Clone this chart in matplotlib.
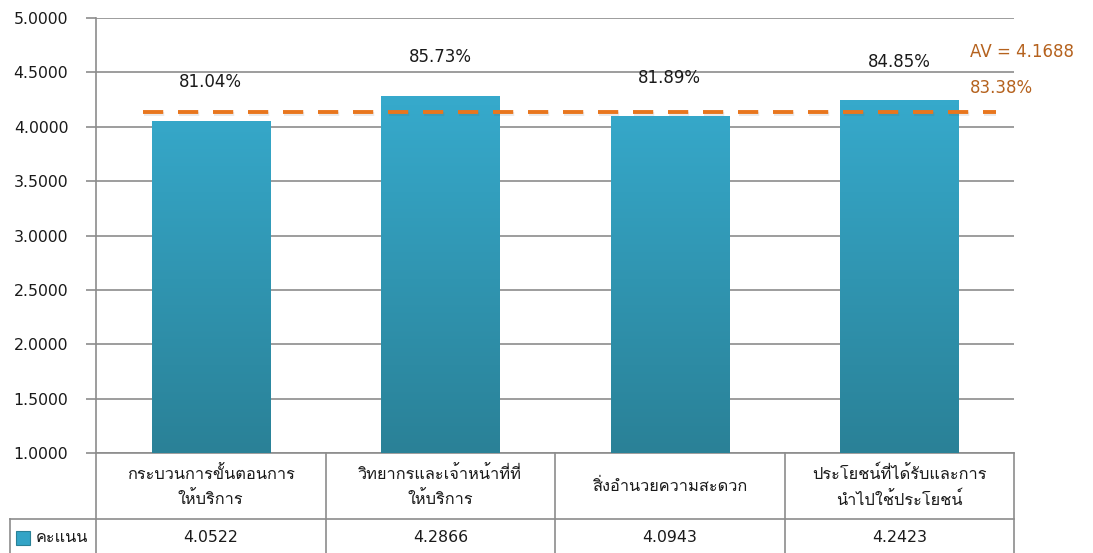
import numpy as np
import matplotlib
matplotlib.use("Agg")
import matplotlib.pyplot as plt
import matplotlib.patheffects as pe
from matplotlib.colors import LinearSegmentedColormap

# data
categories = ["กระบวนการขั้นตอนการ\nให้บริการ",
              "วิทยากรและเจ้าหน้าที่ที่\nให้บริการ",
              "สิ่งอำนวยความสะดวก",
              "ประโยชน์ที่ได้รับและการ\nนำไปใช้ประโยชน์"]
scores = [4.0522, 4.2866, 4.0943, 4.2423]
percents = ["81.04%", "85.73%", "81.89%", "84.85%"]
series_name = "คะแนน"
av_value = 4.1688
av_percent = "83.38%"
av_line_level = 4.135   # where the dashed line sits in the picture
yticks = [1.0, 1.5, 2.0, 2.5, 3.0, 3.5, 4.0, 4.5, 5.0]

plt.rcParams['font.family'] = ['DejaVu Sans', 'Loma']
plt.rcParams['font.size'] = 11

grid_c = '#8c8c8c'
text_c = '#1a1a1a'
av_c = '#b5621e'

fig = plt.figure(figsize=(10.93, 5.53), dpi=100)
ax = fig.add_axes([96 / 1093, 1 - 453 / 553, (1014 - 96) / 1093, (453 - 18) / 553])

x = np.arange(len(categories))
ax.set_xlim(-0.5, len(categories) - 0.5)
ax.set_ylim(1.0, 5.0)

# bars with vertical gradient
cmap = LinearSegmentedColormap.from_list("barg", ["#2a8197", "#39b3d8"])
grad = np.linspace(0, 1, 256).reshape(-1, 1)
bars = ax.bar(x, np.array(scores) - 1.0, bottom=1.0, width=0.515, color='none', zorder=3)
for b in bars:
    x0 = b.get_x()
    im = ax.imshow(grad, extent=[x0, x0 + b.get_width(), 1.0, 5.0],
                   origin='lower', aspect='auto', cmap=cmap, zorder=3,
                   vmin=0, vmax=1)
    im.set_clip_path(b)

for xi, s, p in zip(x, scores, percents):
    ax.annotate(p, (xi, s), xytext=(0, 28), textcoords='offset points',
                ha='center', va='center', fontsize=12, color=text_c, zorder=5)

ax.hlines(av_line_level, -0.295, 3.42, colors='#e8761e', linewidth=2.8,
          linestyles=(0, (5.2, 3.8)), zorder=4,
          path_effects=[pe.SimpleLineShadow(offset=(0.5, -1.5), alpha=0.12,
                                            shadow_color='#555555'),
                        pe.Normal()])
ax.text(3.308, 4.687, "AV = %.4f" % av_value, color=av_c, fontsize=12,
        ha='left', va='center')
ax.text(3.308, 4.356, av_percent, color=av_c, fontsize=12,
        ha='left', va='center')

ax.set_yticks(yticks)
ax.set_yticklabels(["%.4f" % v for v in yticks], color=text_c, fontsize=11.3)
ax.yaxis.grid(True, color=grid_c, linewidth=1.2, zorder=0)
ax.set_axisbelow(True)
ax.tick_params(axis='y', length=7, width=1.2, color=grid_c, pad=13)
ax.tick_params(axis='x', length=0, labelbottom=False)
for side in ['top', 'right']:
    ax.spines[side].set_visible(False)
for side in ['left', 'bottom']:
    ax.spines[side].set_color(grid_c)
    ax.spines[side].set_linewidth(1.2)

# data table under the plot
tr = ax.get_xaxis_transform()
row1 = (453 - 519) / 435
row2 = (453 - 560) / 435
for b in np.arange(len(categories) + 1) - 0.5:
    ax.plot([b, b], [0, row2], transform=tr, color=grid_c, lw=1.2, clip_on=False)
left_edge = -0.5 - (96 - 10) / 229.5
ax.plot([left_edge, 3.5], [row1, row1], transform=tr, color=grid_c, lw=1.2, clip_on=False)
ax.plot([left_edge, left_edge], [row1, row2], transform=tr, color=grid_c, lw=1.2, clip_on=False)

for xi, c, s in zip(x, categories, scores):
    ax.text(xi, (453 - 486) / 435, c, transform=tr, ha='center', va='center',
            fontsize=11.8, color=text_c, linespacing=1.6, clip_on=False)
    ax.text(xi, (453 - 538) / 435, "%.4f" % s, transform=tr, ha='center', va='center',
            fontsize=11.3, color=text_c, clip_on=False)

# legend key in the table
lx0 = -0.5 - (96 - 16) / 229.5
ax.add_patch(plt.Rectangle((lx0, (453 - 545) / 435), 14 / 229.5, 14 / 435,
                           transform=tr, facecolor='#33a4c6', edgecolor='#2a8197',
                           lw=0.8, clip_on=False))
ax.text(-0.5 - (96 - 36) / 229.5, (453 - 538) / 435, series_name, transform=tr,
        ha='left', va='center', fontsize=11.8, color=text_c, clip_on=False)

fig.savefig("out.png", dpi=100)
